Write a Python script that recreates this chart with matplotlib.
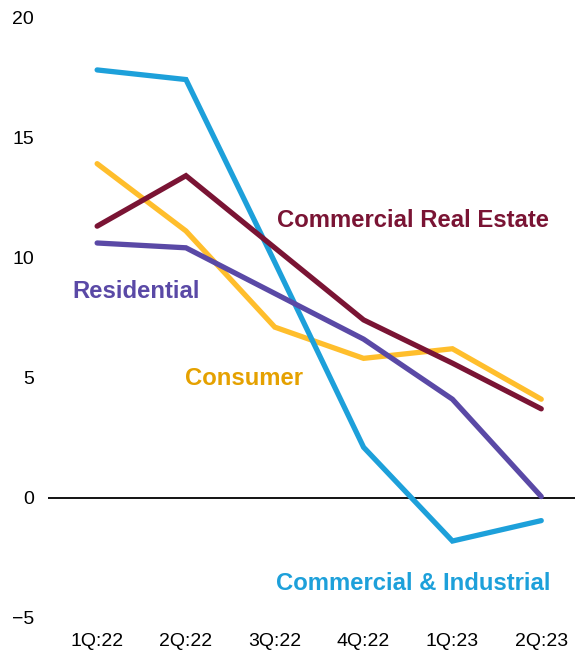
import matplotlib
matplotlib.use("Agg")
from matplotlib import pyplot as plt

quarters = ['1Q:22', '2Q:22', '3Q:22', '4Q:22', '1Q:23', '2Q:23']
commercial_industrial = [17.8, 17.4, 9.8, 2.1, -1.8, -0.95]
commercial_real_estate = [11.3, 13.4, 10.4, 7.4, 5.6, 3.7]
consumer = [13.9, 11.1, 7.1, 5.8, 6.2, 4.1]
residential = [10.6, 10.4, 8.5, 6.6, 4.1, 0.05]

plt.rcParams['font.family'] = ['Liberation Sans', 'DejaVu Sans']

fig = plt.figure(figsize=(5.75, 6.56), dpi=100)
ax = fig.add_axes([0.0835, 0.058, 0.9165, 0.916])

x = range(len(quarters))
lw = 3.8
ax.axhline(0, color='black', lw=1.3, zorder=1)
ax.plot(x, commercial_real_estate, color='#7A1434', lw=lw, solid_capstyle='round', solid_joinstyle='miter', zorder=3)
ax.plot(x, consumer, color='#FFBE2C', lw=lw, solid_capstyle='round', solid_joinstyle='miter', zorder=2)
ax.plot(x, residential, color='#5A49A6', lw=lw, solid_capstyle='round', solid_joinstyle='miter', zorder=4)
ax.plot(x, commercial_industrial, color='#1DA0DA', lw=lw, solid_capstyle='round', solid_joinstyle='miter', zorder=2)

fs = 17.2
ax.text(3.555, 11.54, 'Commercial Real Estate', color='#7A1434', fontsize=fs, fontweight='bold', ha='center', va='center')
ax.text(0.44, 8.58, 'Residential', color='#5A49A6', fontsize=fs, fontweight='bold', ha='center', va='center')
ax.text(1.65, 4.96, 'Consumer', color='#E5A100', fontsize=fs, fontweight='bold', ha='center', va='center')
ax.text(3.555, -3.58, 'Commercial & Industrial', color='#1DA0DA', fontsize=fs, fontweight='bold', ha='center', va='center')

ax.set_xlim(-0.553, 5.38)
ax.set_ylim(-5, 20)
ax.set_xticks(list(x))
ax.set_xticklabels(quarters)
ax.set_yticks([-5, 0, 5, 10, 15, 20])
ax.set_yticklabels(['\u22125', '0', '5', '10', '15', '20'])
ax.tick_params(axis='both', length=0, labelsize=14, colors='black')
ax.tick_params(axis='y', pad=10)
ax.tick_params(axis='x', pad=11)
for s in ax.spines.values():
    s.set_visible(False)

fig.savefig('out.png', dpi=100)
